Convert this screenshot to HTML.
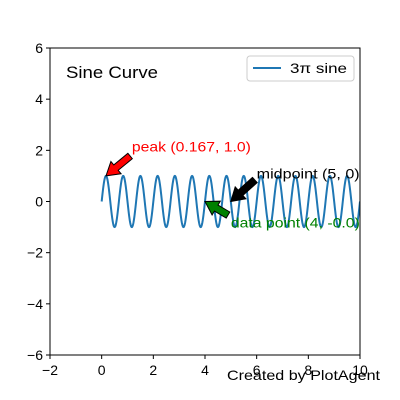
<!DOCTYPE html>
<html><head><meta charset="utf-8"><style>body{margin:0;background:#fff}svg{display:block;font-family:"Liberation Sans","DejaVu Sans",sans-serif}</style></head>
<body>
<svg id="c" width="400" height="400"></svg>
<script>
const xTicks=[-2,0,2,4,6,8,10];
const yTicks=[-6,-4,-2,0,2,4,6];
const freq=3;
const xStart=0,xEnd=10,nPts=1000;
const annotations=[
 {label:"peak (0.167, 1.0)",x:0.167,y:1.0,ax:1.10,ay:1.78,tx:1.17,ty:2.15,color:"red",w:119},
 {label:"midpoint (5, 0)",x:5,y:0,ax:5.93,ay:0.84,tx:6.0,ty:1.1,color:"black",w:103},
 {label:"data point (4, -0.0)",x:4,y:-0.0,ax:4.89,ay:-0.53,tx:5.0,ty:-0.82,color:"green",w:129}
];
const L=50,R=360,T=48,B=355;
const X=v=>L+(v+2)/12*(R-L), Y=v=>B-(v+6)/12*(B-T);
const s=document.getElementById('c');const NS="http://www.w3.org/2000/svg";
function mk(t,a,txt){const e=document.createElementNS(NS,t);for(const k in a)e.setAttribute(k,a[k]);if(txt!=null)e.textContent=txt;s.appendChild(e);return e;}
let e;
e=mk('defs',{});e.innerHTML='<clipPath id="cp"><rect x="50" y="48" width="310" height="307"/></clipPath>';
let d='';for(let i=0;i<=nPts;i++){const x=xStart+(xEnd-xStart)*i/nPts;d+=(i?'L':'M')+X(x).toFixed(2)+','+Y(Math.sin(freq*Math.PI*x)).toFixed(2);}
e=mk('path',{d:d,fill:'none',stroke:'#1f77b4','stroke-width':2,'clip-path':'url(#cp)'});


e=mk('rect',{x:L,y:T,width:R-L,height:B-T,fill:'none',stroke:'#000','stroke-width':1});


xTicks.forEach(t=>{mk('line',{x1:X(t),x2:X(t),y1:B,y2:B+4,stroke:'#000'});
 e=mk('text',{x:X(t),y:B+20,'text-anchor':'middle','font-size':14},t<0?'\u2212'+(-t):t);
 
 });
yTicks.forEach(t=>{mk('line',{x1:L-4,x2:L,y1:Y(t),y2:Y(t),stroke:'#000'});
 e=mk('text',{x:L-7,y:Y(t)+5,'text-anchor':'end','font-size':14},t<0?'\u2212'+(-t):t);
 
 });
annotations.forEach(a=>{
 const x1=X(a.ax),y1=Y(a.ay),x2=X(a.x),y2=Y(a.y);
 const dx=x2-x1,dy=y2-y1,len=Math.hypot(dx,dy),ux=dx/len,uy=dy/len,px=-uy,py=ux;
 const hl=Math.min(13,len*0.5),hw=8,sw=3.5;
 const bx=x2-ux*hl,by=y2-uy*hl;
 const pts=[[x1+px*sw,y1+py*sw],[bx+px*sw,by+py*sw],[bx+px*hw,by+py*hw],[x2,y2],[bx-px*hw,by-py*hw],[bx-px*sw,by-py*sw],[x1-px*sw,y1-py*sw]];
 e=mk('polygon',{points:pts.map(p=>p.map(v=>v.toFixed(1)).join(',')).join(' '),fill:a.color,stroke:'#000','stroke-width':1});
 
 
 e=mk('text',{x:X(a.tx),y:Y(a.ty)+5,'font-size':14,fill:a.color,textLength:a.w,lengthAdjust:'spacingAndGlyphs'},a.label);
 
 
});
e=mk('text',{x:66,y:78,'font-size':17,textLength:92,lengthAdjust:'spacingAndGlyphs'},'Sine Curve');


e=mk('rect',{x:247,y:56,width:107,height:25,rx:3,fill:'#fff',stroke:'#ccc'});


mk('line',{x1:253,x2:281,y1:68,y2:68,stroke:'#1f77b4','stroke-width':2});
e=mk('text',{x:290,y:73,'font-size':14,textLength:57,lengthAdjust:'spacingAndGlyphs'},'3\u03c0 sine');


e=mk('text',{x:227,y:380,'font-size':14,textLength:153,lengthAdjust:'spacingAndGlyphs'},'Created by PlotAgent');


</script>
</body></html>
